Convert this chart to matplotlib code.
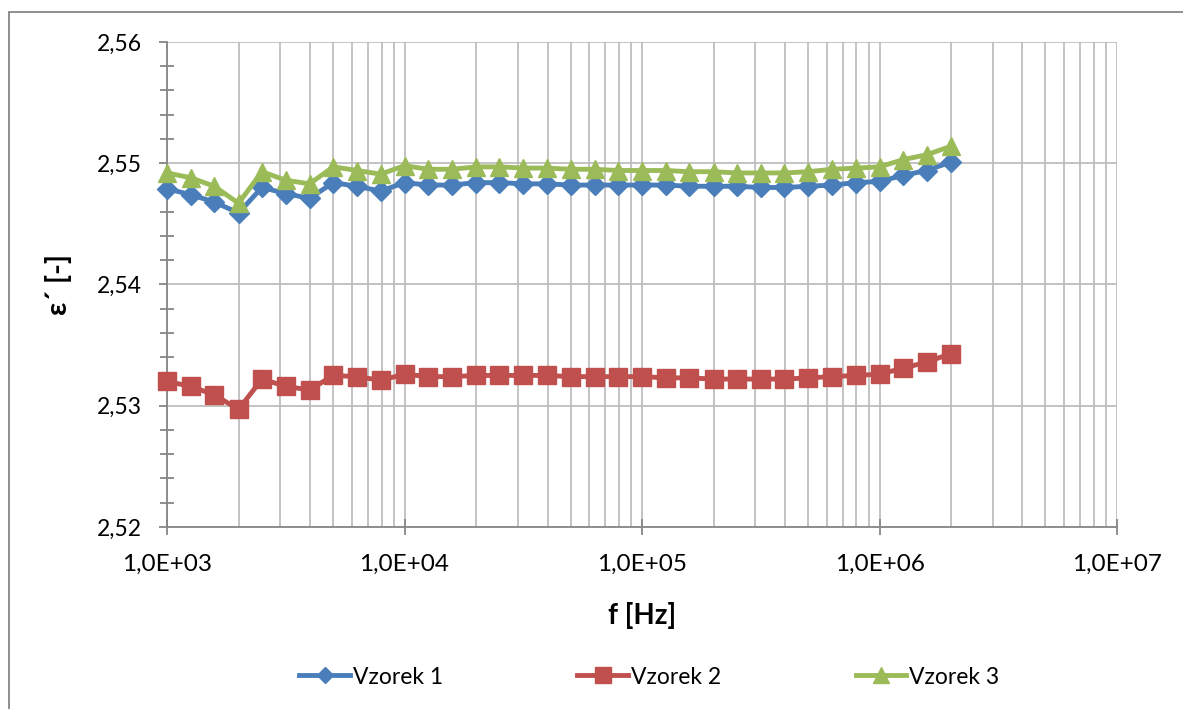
import numpy as np
import matplotlib
matplotlib.use("Agg")
import matplotlib.pyplot as plt
from matplotlib.ticker import FixedLocator, MultipleLocator, FuncFormatter
from matplotlib.lines import Line2D

plt.rcParams['font.family'] = ['Lato', 'DejaVu Sans']

# measured frequencies [Hz]
freq = [1.00e3, 1.26e3, 1.58e3, 2.00e3, 2.51e3, 3.16e3, 3.98e3, 5.01e3, 6.31e3, 7.94e3,
        1.00e4, 1.26e4, 1.58e4, 2.00e4, 2.51e4, 3.16e4, 3.98e4, 5.01e4, 6.31e4, 7.94e4,
        1.00e5, 1.26e5, 1.58e5, 2.00e5, 2.51e5, 3.16e5, 3.98e5, 5.01e5, 6.31e5, 7.94e5,
        1.00e6, 1.26e6, 1.58e6, 2.00e6]

vzorek1 = [2.5479, 2.5474, 2.5468, 2.5459, 2.5480, 2.5475, 2.5471, 2.5484, 2.5481, 2.5477,
           2.5484, 2.5482, 2.5482, 2.5484, 2.5484, 2.5483, 2.5483, 2.5482, 2.5482, 2.5482,
           2.5482, 2.5482, 2.5481, 2.5481, 2.5481, 2.5480, 2.5480, 2.5481, 2.5482, 2.5484,
           2.5485, 2.5490, 2.5494, 2.5501]
vzorek2 = [2.5320, 2.5316, 2.5309, 2.5297, 2.5322, 2.5316, 2.5313, 2.5325, 2.5324, 2.5321,
           2.5326, 2.5324, 2.5324, 2.5325, 2.5325, 2.5325, 2.5325, 2.5324, 2.5324, 2.5324,
           2.5324, 2.5323, 2.5323, 2.5322, 2.5322, 2.5322, 2.5322, 2.5323, 2.5324, 2.5325,
           2.5326, 2.5331, 2.5336, 2.5343]
vzorek3 = [2.5492, 2.5488, 2.5481, 2.5467, 2.5493, 2.5486, 2.5483, 2.5497, 2.5494, 2.5491,
           2.5498, 2.5495, 2.5495, 2.5497, 2.5497, 2.5496, 2.5496, 2.5495, 2.5495, 2.5494,
           2.5494, 2.5494, 2.5493, 2.5493, 2.5492, 2.5492, 2.5492, 2.5493, 2.5495, 2.5496,
           2.5497, 2.5503, 2.5507, 2.5514]

names = ['Vzorek 1', 'Vzorek 2', 'Vzorek 3']
colors = ['#4A7EBB', '#C0504D', '#9BBB59']
markers = ['D', 's', '^']
msizes = [10, 13, 13]

fig = plt.figure(figsize=(11.83, 7.09), dpi=100)
ax = fig.add_axes([0.1412, 0.2567, 0.8030, 0.6841])

grid_col = '#BEBEBE'
axis_col = '#868686'

ax.set_xscale('log')
ax.set_xlim(1e3, 1e7)
ax.set_ylim(2.52, 2.56)

# grid
ax.xaxis.set_major_locator(FixedLocator([1e3, 1e4, 1e5, 1e6, 1e7]))
minors = [m * 10**e for e in range(3, 7) for m in range(2, 10)]
ax.xaxis.set_minor_locator(FixedLocator(minors))
ax.yaxis.set_major_locator(MultipleLocator(0.01))
ax.yaxis.set_minor_locator(MultipleLocator(0.002))
ax.grid(True, which='major', axis='both', color=grid_col, lw=1.3, zorder=0)
ax.grid(True, which='minor', axis='x', color=grid_col, lw=1.3, zorder=0)
ax.set_axisbelow(True)

for s in ['top', 'right']:
    ax.spines[s].set_visible(False)
for s in ['left', 'bottom']:
    ax.spines[s].set_color(axis_col)
    ax.spines[s].set_linewidth(1.3)

ax.tick_params(axis='x', which='major', direction='inout', length=12, width=1.3,
               color=axis_col, labelsize=17.5, pad=13)
ax.tick_params(axis='x', which='minor', length=0)
ax.tick_params(axis='y', which='major', direction='out', length=6, width=1.3,
               color=axis_col, labelsize=16.5, pad=12)
ax.tick_params(axis='y', which='minor', direction='inout', length=10, width=1.3,
               color=axis_col)

ax.xaxis.set_major_formatter(FuncFormatter(
    lambda v, p: ('%.1E' % v).replace('.', ',')))
ax.yaxis.set_major_formatter(FuncFormatter(
    lambda v, p: ('%.2f' % v).replace('.', ',')))

series = [vzorek1, vzorek2, vzorek3]
for vals, name, c, m, ms in zip(series, names, colors, markers, msizes):
    ax.plot(freq, vals, color=c, lw=3.5, marker=m, markersize=ms,
            markeredgecolor=c, label=name, zorder=3, clip_on=False)

ax.set_xlabel('f [Hz]', fontsize=20, fontweight='bold', labelpad=20)
ax.set_ylabel('ε´ [-]', fontsize=21, fontweight='bold', labelpad=18)

handles = [Line2D([0], [0], color=c, lw=3.5, marker=m, markersize=ms * 0.85,
                  markeredgecolor=c) for c, m, ms in zip(colors, markers, msizes)]
fig.legend(handles, names, loc='center', bbox_to_anchor=(0.549, 1 - 677 / 709),
           ncol=3, frameon=False, fontsize=16.5, handlelength=2.2,
           handletextpad=0.15, columnspacing=5.85)

# chart area border
fig.patches.append(plt.Rectangle((9 / 1183, -0.05), 1.2, 1 - 12 / 709 + 0.05,
                                 transform=fig.transFigure, fill=False,
                                 edgecolor=axis_col, lw=1.3))

fig.savefig('out.png', dpi=100)
